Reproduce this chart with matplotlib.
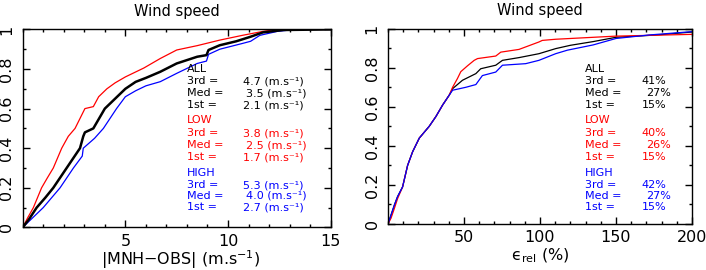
import numpy as np
import matplotlib as mpl
mpl.use('Agg')
import matplotlib.pyplot as plt
from matplotlib.ticker import MultipleLocator

mpl.rcParams['font.family'] = ['DejaVu Sans']
mpl.rcParams['mathtext.fontset'] = 'dejavusans'

# --- left panel: |MNH-OBS| (m/s), cumulative frequency
abs_red_x = [0, 0.25, 0.52, 0.92, 1.2, 1.49, 1.9, 2.22, 2.55, 3.03, 3.44, 3.7, 4.1, 4.5,
             5.0, 5.5, 5.9, 6.7, 7.5, 8.5, 9.6, 10.7, 11.7, 12.4, 15]
abs_red_y = [0, 0.05, 0.10, 0.20, 0.25, 0.30, 0.40, 0.46, 0.50, 0.60, 0.61, 0.66, 0.70, 0.73,
             0.76, 0.785, 0.805, 0.853, 0.896, 0.918, 0.946, 0.97, 0.99, 1.0, 1.0]
abs_all_x = [0, 0.3, 0.68, 1.1, 1.49, 2.14, 2.79, 2.95, 3.03, 3.44, 4.0, 4.5, 5.0, 5.5, 6.0,
             6.7, 7.5, 8.5, 8.95, 9.05, 9.6, 10.4, 11.1, 11.7, 12.7, 15]
abs_all_y = [0, 0.04, 0.10, 0.15, 0.20, 0.30, 0.40, 0.46, 0.48, 0.50, 0.60, 0.65, 0.70, 0.735,
             0.755, 0.786, 0.828, 0.862, 0.87, 0.896, 0.92, 0.94, 0.963, 0.985, 0.997, 1.0]
abs_blue_x = [0, 0.4, 1.0, 1.82, 2.47, 2.9, 2.95, 3.5, 3.93, 4.57, 5.0, 5.5, 6.0, 6.7, 7.5,
              8.5, 8.95, 9.05, 9.6, 10.7, 11.1, 11.55, 12.4, 13.3, 15]
abs_blue_y = [0, 0.04, 0.10, 0.20, 0.30, 0.36, 0.40, 0.45, 0.50, 0.60, 0.66, 0.69, 0.715, 0.736,
              0.778, 0.828, 0.84, 0.874, 0.90, 0.929, 0.94, 0.97, 0.99, 1.0, 1.0]

# --- right panel: relative error (%)
rel_all_x = [0, 2, 4.2, 6.3, 9.6, 12.9, 16.2, 20.6, 27.1, 31.5, 36, 40.3, 42.5, 49, 57.8, 61,
             70.9, 75.3, 86.2, 99.3, 110.3, 120, 135, 150, 177, 200]
rel_all_y = [0, 0.046, 0.097, 0.14, 0.19, 0.30, 0.37, 0.44, 0.50, 0.55, 0.61, 0.66, 0.693, 0.736,
             0.77, 0.795, 0.813, 0.838, 0.852, 0.872, 0.898, 0.915, 0.934, 0.956, 0.968, 0.983]
rel_red_x = [0, 2, 4.2, 6.3, 9.6, 12.9, 16.2, 20.6, 27.1, 31.5, 36, 40.3, 42.5, 45.7, 47.9,
             52.3, 56.7, 58.9, 70.9, 74.2, 86.2, 99.3, 101.5, 110.3, 150, 200]
rel_red_y = [0, 0.03, 0.08, 0.13, 0.19, 0.30, 0.37, 0.44, 0.50, 0.55, 0.61, 0.66, 0.70, 0.745,
             0.78, 0.81, 0.838, 0.847, 0.86, 0.88, 0.894, 0.932, 0.94, 0.946, 0.962, 0.971]
rel_blue_x = [0, 2, 4.2, 6.3, 9.6, 12.9, 16.2, 20.6, 27.1, 31.5, 36, 40.3, 42.5, 51.2, 57.8,
              62.1, 70.9, 75.3, 90.6, 99.3, 110.3, 118, 135, 150, 172, 200]
rel_blue_y = [0, 0.046, 0.097, 0.14, 0.19, 0.30, 0.37, 0.44, 0.50, 0.55, 0.61, 0.66, 0.685,
              0.70, 0.714, 0.76, 0.778, 0.813, 0.821, 0.838, 0.872, 0.89, 0.917, 0.95, 0.968, 0.985]

groups = ['ALL', 'LOW', 'HIGH']
group_colors = ['black', '#ff0000', '#0000ff']
stat_names = ['3rd =', 'Med =', '1st =']
abs_stats = [['4.7', '3.5', '2.1'], ['3.8', '2.5', '1.7'], ['5.3', '4.0', '2.7']]
rel_stats = [['41%', '27%', '15%'], ['40%', '26%', '15%'], ['42%', '27%', '15%']]

W, H = 706, 270
fig = plt.figure(figsize=(W/100, H/100), dpi=100)

def px_axes(l, t, r, b):
    return fig.add_axes([l/W, 1 - b/H, (r - l)/W, (b - t)/H])

ax1 = px_axes(22.7, 29.4, 330.7, 227.4)
ax2 = px_axes(388, 28.7, 692, 224)

ax1.plot(abs_red_x, abs_red_y, color='#ff0000', lw=0.9)
ax1.plot(abs_blue_x, abs_blue_y, color='#0000ff', lw=0.9)
ax1.plot(abs_all_x, abs_all_y, color='black', lw=1.8)

ax2.plot(rel_all_x, rel_all_y, color='black', lw=0.9)
ax2.plot(rel_red_x, rel_red_y, color='#ff0000', lw=0.9)
ax2.plot(rel_blue_x, rel_blue_y, color='#0000ff', lw=0.9)

for ax, xmax, major, minor in [(ax1, 15, 5, 1), (ax2, 200, 50, 10)]:
    ax.set_xlim(0, xmax)
    ax.set_ylim(0, 1)
    ax.set_xticks(np.arange(major, xmax + 0.1, major))
    ax.xaxis.set_minor_locator(MultipleLocator(minor))
    ax.set_yticks([0, 0.2, 0.4, 0.6, 0.8, 1])
    ax.set_yticklabels(['0', '0.2', '0.4', '0.6', '0.8', '1'])
    ax.yaxis.set_minor_locator(MultipleLocator(0.1))
    ax.tick_params(which='both', direction='in', top=True, right=True, width=1)
    ax.tick_params(which='major', length=5, labelsize=11.5)
    ax.tick_params(which='minor', length=2.5)
    ax.tick_params(axis='x', pad=4.5)
    ax.tick_params(axis='y', pad=6)
    for lab in ax.get_yticklabels():
        lab.set_rotation(90)
        lab.set_va('center')
    for sp in ax.spines.values():
        sp.set_linewidth(1)
    ax.set_title('Wind speed', fontsize=10.5, pad=10)

# x labels placed by baseline so they stay inside the canvas
fig.text(181/W, 1 - 265/H, r'|MNH$-$OBS| (m.s$^{-1}$)', fontsize=11.5,
         ha='center', va='baseline')
fig.text(540/W, 1 - 260/H, r'ϵ$_{\mathrm{rel}}$ (%)', fontsize=11.5,
         ha='center', va='baseline')

# annotation blocks
baselines = [[72, 84, 96, 108], [123, 136, 148, 160], [176, 188, 199, 210]]
for g, name in enumerate(groups):
    c = group_colors[g]
    rows = baselines[g]
    for lx, ax_stats, is_abs in [(187.3, abs_stats, True), (585, rel_stats, False)]:
        fig.text(lx/W, 1 - rows[0]/H, name, color=c, fontsize=8, va='baseline')
        for k in range(3):
            y = 1 - rows[k + 1]/H
            fig.text(lx/W, y, stat_names[k], color=c, fontsize=8, va='baseline')
            if is_abs:
                vx = 246 if k == 1 else 242.7
                fig.text(vx/W, y, ax_stats[g][k] + ' (m.s\u207b\u00b9)', color=c,
                         fontsize=8, va='baseline')
            else:
                vx = 670.7 if k == 1 else 666
                fig.text(vx/W, y, ax_stats[g][k], color=c, fontsize=8,
                         va='baseline', ha='right')

fig.savefig('out.png', dpi=100)
